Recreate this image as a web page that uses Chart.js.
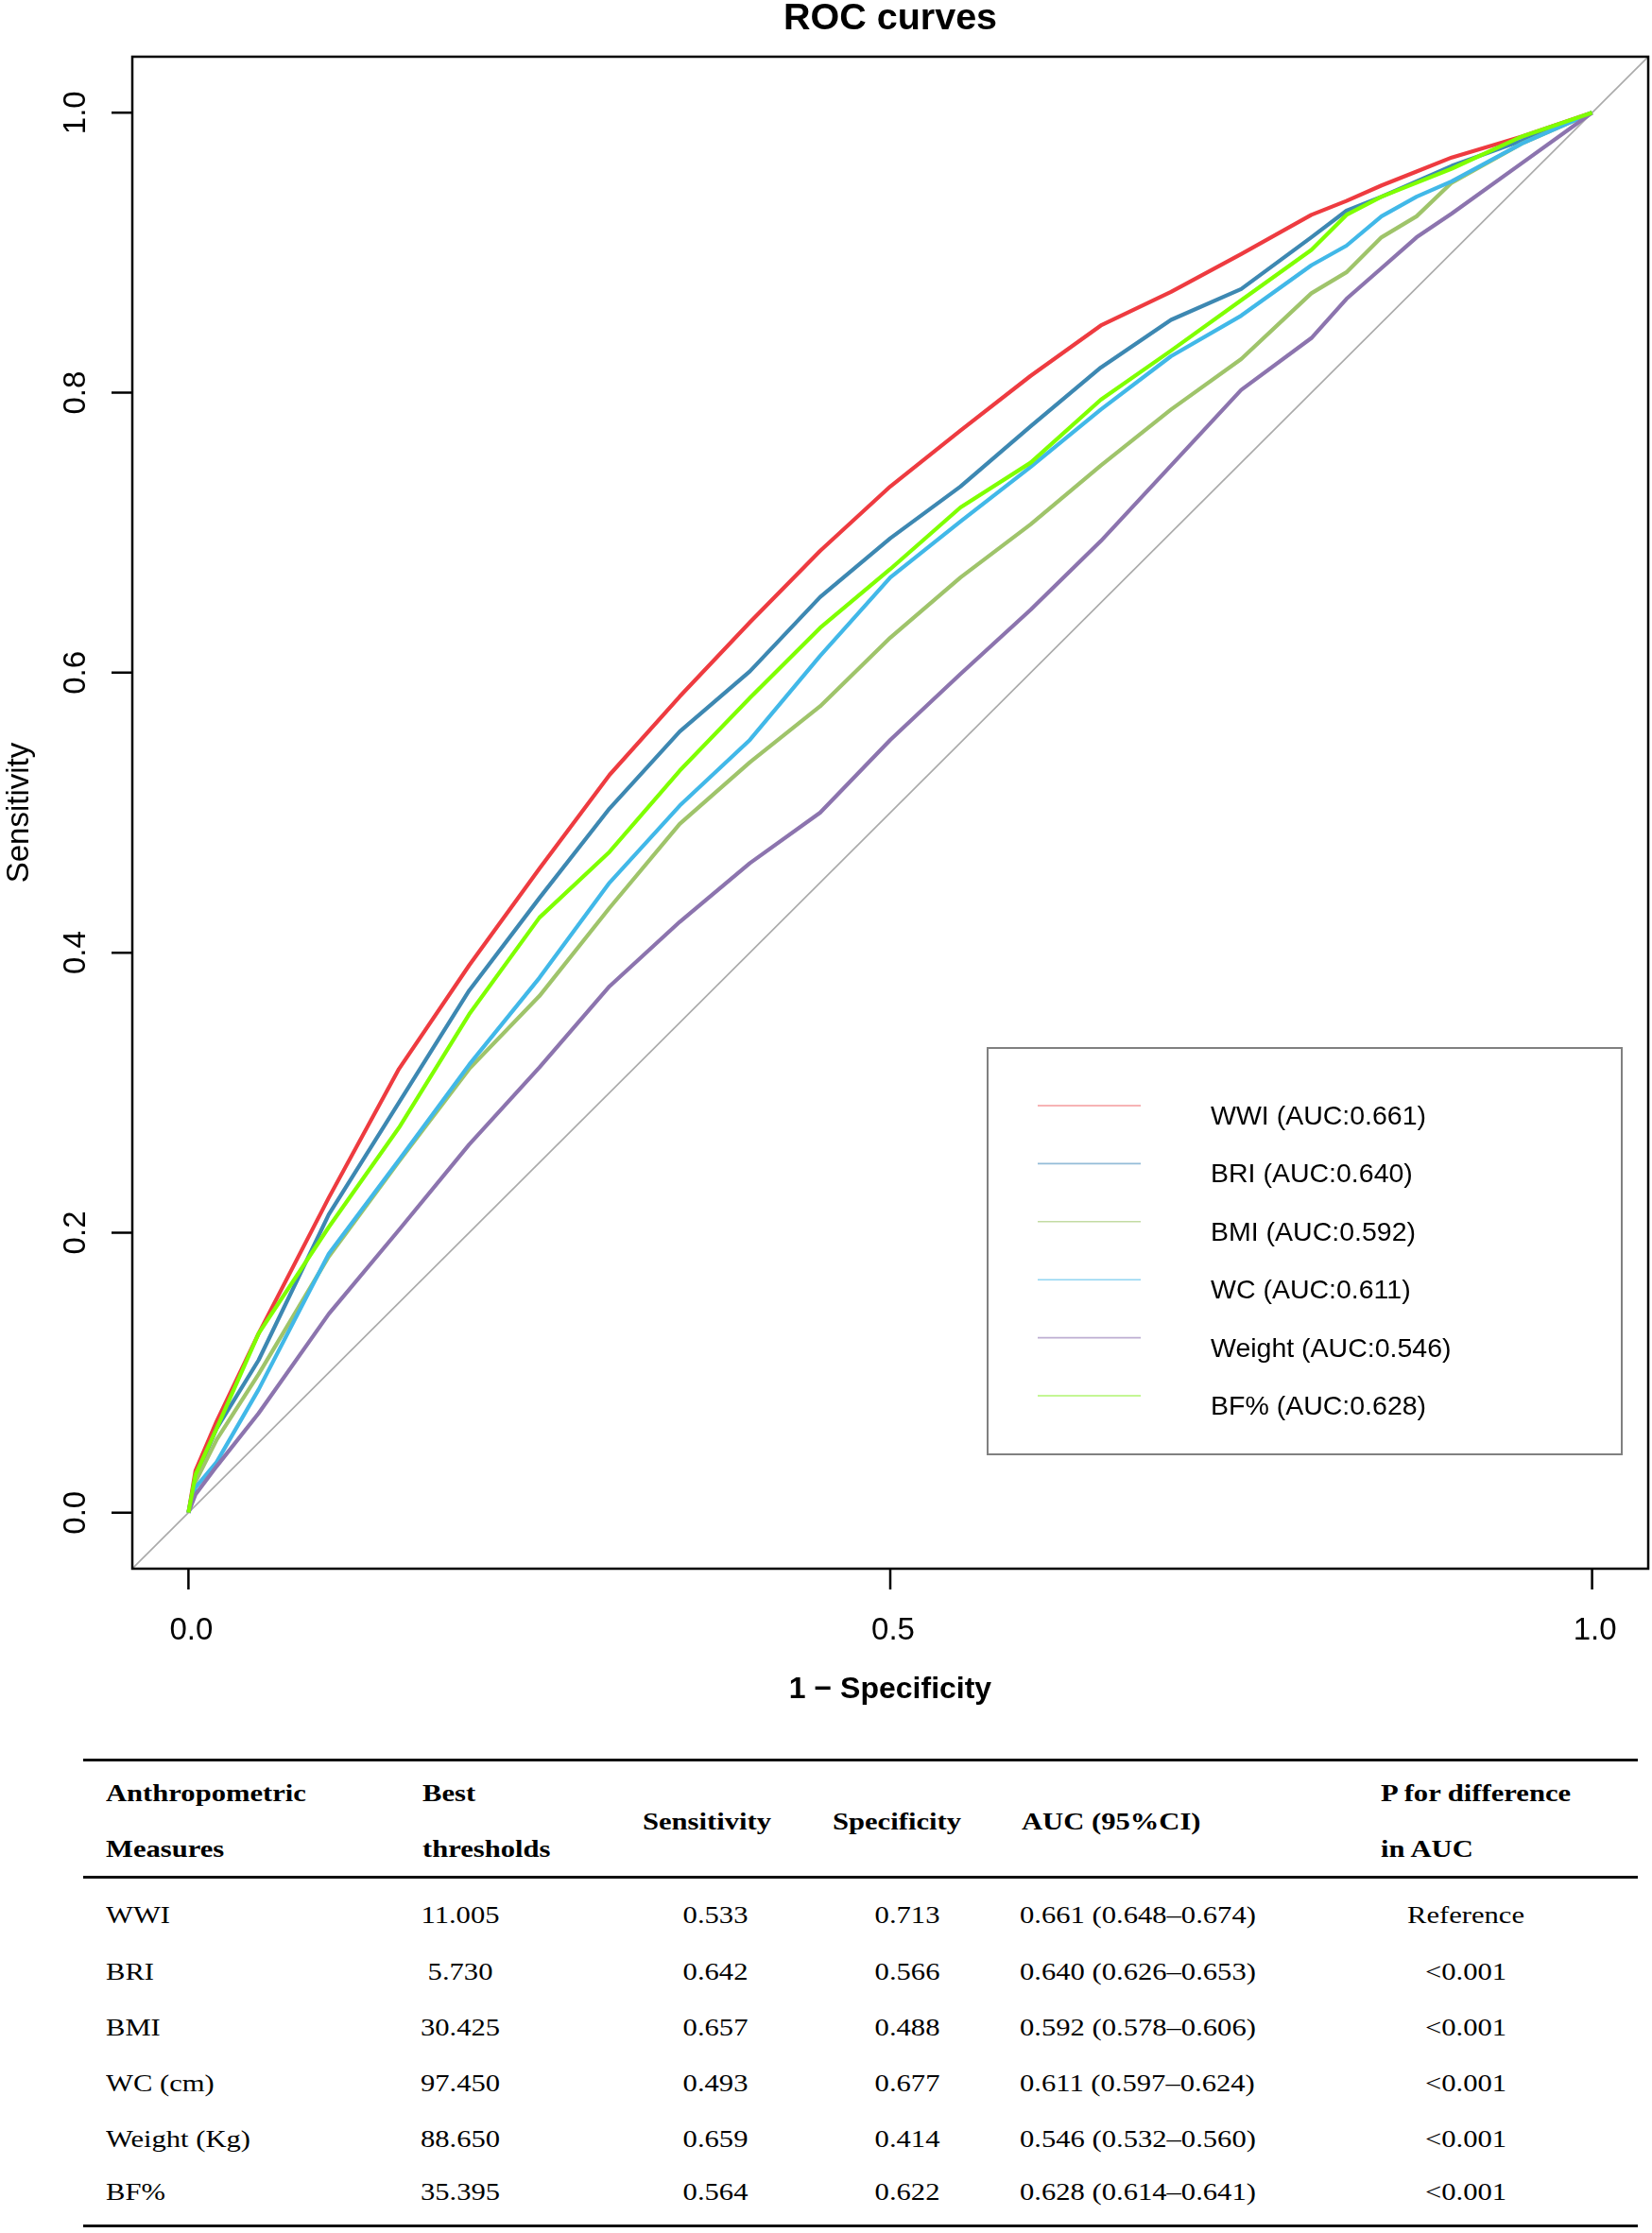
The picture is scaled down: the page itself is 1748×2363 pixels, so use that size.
<!DOCTYPE html>
<html>
<head>
<meta charset="utf-8">
<script src="https://cdn.jsdelivr.net/npm/chart.js@4.4.1/dist/chart.umd.min.js"></script>
<style>
  html, body { margin: 0; padding: 0; background: #fff; }
  body { width: 1748px; height: 2363px; position: relative; overflow: hidden; }
  #roc { position: absolute; left: 0; top: 0; }
  .rule { position: absolute; left: 88px; width: 1645px; height: 2.5px; background: #111; }
  .cell {
    position: absolute; height: 30px; line-height: 30px; white-space: nowrap; color: #000;
    font-family: "Liberation Serif", "Times New Roman", serif; font-size: 25.5px;
  }
  .cell.left { transform-origin: left center; transform: scaleX(1.2); }
  .cell.mid { width: 300px; text-align: center; transform-origin: center center; transform: scaleX(1.2); }
  .cell.head { font-weight: bold; }
</style>
</head>
<body>
<canvas id="roc" width="1748" height="1845"></canvas>
<div id="table"></div>
<script>
// ROC curves for six anthropometric measures.
const FPR = [0, 0.005, 0.02, 0.05, 0.1, 0.15, 0.2, 0.25, 0.3, 0.35, 0.4, 0.45, 0.5,
  0.55, 0.6, 0.65, 0.7, 0.75, 0.8, 0.825, 0.85, 0.875, 0.9, 0.95, 1];

const TPR_WWI = [0, 0.030, 0.065, 0.128, 0.225, 0.317, 0.391, 0.460, 0.527, 0.583, 0.636, 0.687, 0.733,
  0.773, 0.812, 0.848, 0.872, 0.899, 0.927, 0.937, 0.948, 0.958, 0.968, 0.983, 1];
const TPR_BRI = [0, 0.025, 0.060, 0.109, 0.213, 0.293, 0.373, 0.439, 0.503, 0.558, 0.601, 0.654, 0.696,
  0.733, 0.776, 0.818, 0.852, 0.874, 0.911, 0.930, 0.940, 0.951, 0.962, 0.980, 1];
const TPR_BMI = [0, 0.022, 0.052, 0.099, 0.183, 0.251, 0.317, 0.369, 0.432, 0.492, 0.536, 0.576, 0.625,
  0.668, 0.706, 0.748, 0.788, 0.824, 0.871, 0.886, 0.911, 0.926, 0.950, 0.978, 1];
const TPR_WC = [0, 0.018, 0.036, 0.088, 0.185, 0.252, 0.320, 0.382, 0.450, 0.505, 0.552, 0.612, 0.668,
  0.708, 0.747, 0.788, 0.826, 0.855, 0.891, 0.905, 0.926, 0.940, 0.951, 0.978, 1];
const TPR_WEIGHT = [0, 0.013, 0.033, 0.071, 0.142, 0.202, 0.263, 0.318, 0.376, 0.422, 0.464, 0.500, 0.552,
  0.599, 0.645, 0.694, 0.748, 0.802, 0.839, 0.867, 0.889, 0.911, 0.928, 0.964, 1];
const TPR_BF = [0, 0.027, 0.060, 0.128, 0.204, 0.275, 0.356, 0.425, 0.472, 0.530, 0.582, 0.632, 0.674,
  0.718, 0.750, 0.795, 0.830, 0.866, 0.902, 0.927, 0.940, 0.950, 0.960, 0.983, 1];

const CURVE_NAMES = ['WWI', 'BRI', 'BMI', 'WC', 'Weight', 'BF%'];
const CURVE_AUC = ['0.661', '0.640', '0.592', '0.611', '0.546', '0.628'];
const CURVE_TPR = [TPR_WWI, TPR_BRI, TPR_BMI, TPR_WC, TPR_WEIGHT, TPR_BF];
const CURVE_COLORS = ['#ee3b40', '#3d88b2', '#9fc46a', '#41b8e8', '#8c74ae', '#7fff00'];
const LEGEND_COLORS = ['#f49a9c', '#94bcd8', '#c3dba3', '#92d6f2', '#bdaed2', '#b0f570'];

// Chance line spans the whole (R-expanded) plotting range.
const DIAG = [-0.04, 1.04];
const X_TICKS = [0, 0.5, 1];
const Y_TICKS = [0, 0.2, 0.4, 0.6, 0.8, 1];

// Table under the plot.
const TABLE_HEAD = [
  ['Anthropometric', 'Measures'], ['Best', 'thresholds'], ['Sensitivity'], ['Specificity'],
  ['AUC (95%CI)'], ['P for difference', 'in AUC'],
];
const ROW_NAMES = ['WWI', 'BRI', 'BMI', 'WC (cm)', 'Weight (Kg)', 'BF%'];
const ROW_THRESH = ['11.005', '5.730', '30.425', '97.450', '88.650', '35.395'];
const ROW_SENS = ['0.533', '0.642', '0.657', '0.493', '0.659', '0.564'];
const ROW_SPEC = ['0.713', '0.566', '0.488', '0.677', '0.414', '0.622'];
const ROW_AUC = ['0.661 (0.648–0.674)', '0.640 (0.626–0.653)', '0.592 (0.578–0.606)',
  '0.611 (0.597–0.624)', '0.546 (0.532–0.560)', '0.628 (0.614–0.641)'];
const ROW_P = ['Reference', '<0.001', '<0.001', '<0.001', '<0.001', '<0.001'];

const SANS = '"Liberation Sans", Arial, Helvetica, sans-serif';

const datasets = CURVE_NAMES.map((name, i) => ({
  label: `${name} (AUC:${CURVE_AUC[i]})`,
  data: FPR.map((x, j) => ({ x, y: CURVE_TPR[i][j] })),
  borderColor: CURVE_COLORS[i],
  borderWidth: 4.2,
  borderJoinStyle: 'round',
  showLine: true,
  pointRadius: 0,
  tension: 0,
  order: CURVE_NAMES.length - i, // later curves sit on top, like successive lines() calls
}));
datasets.push({
  label: 'chance',
  data: DIAG.map((v) => ({ x: v, y: v })),
  borderColor: '#aaaaaa',
  borderWidth: 1.6,
  showLine: true,
  pointRadius: 0,
  order: 99,
});

// R-style frame: box, outward ticks, rotated y labels, titles and the legend box.
const rocFrame = {
  id: 'rocFrame',
  afterDraw(chart) {
    const { ctx, chartArea: a, scales: { x, y } } = chart;
    const midX = (a.left + a.right) / 2;
    const midY = (a.top + a.bottom) / 2;
    ctx.save();
    ctx.strokeStyle = '#000';
    ctx.lineWidth = 2.5;
    ctx.strokeRect(a.left, a.top, a.right - a.left, a.bottom - a.top);

    ctx.beginPath();
    for (const v of X_TICKS) {
      const px = x.getPixelForValue(v);
      ctx.moveTo(px, a.bottom);
      ctx.lineTo(px, a.bottom + 22);
    }
    for (const v of Y_TICKS) {
      const py = y.getPixelForValue(v);
      ctx.moveTo(a.left, py);
      ctx.lineTo(a.left - 22, py);
    }
    ctx.stroke();

    ctx.fillStyle = '#000';
    ctx.textAlign = 'center';
    ctx.textBaseline = 'alphabetic';
    ctx.font = `33px ${SANS}`;
    for (const v of X_TICKS) ctx.fillText(v.toFixed(1), x.getPixelForValue(v) + 3, a.bottom + 75);
    for (const v of Y_TICKS) {
      ctx.save();
      ctx.translate(a.left - 50, y.getPixelForValue(v));
      ctx.rotate(-Math.PI / 2);
      ctx.fillText(v.toFixed(1), 0, 0);
      ctx.restore();
    }

    ctx.save();
    ctx.translate(30, midY);
    ctx.rotate(-Math.PI / 2);
    ctx.fillText('Sensitivity', 0, 0);
    ctx.restore();

    ctx.font = `bold 32px ${SANS}`;
    ctx.fillText('1 − Specificity', midX, a.bottom + 137);
    ctx.font = `bold 39.5px ${SANS}`;
    ctx.fillText('ROC curves', midX, 31);

    // legend
    ctx.strokeStyle = '#808080';
    ctx.lineWidth = 2;
    ctx.strokeRect(1045, 1109, 671, 430);
    ctx.font = `28.5px ${SANS}`;
    ctx.textAlign = 'left';
    ctx.lineWidth = 1.6;
    CURVE_NAMES.forEach((name, i) => {
      const ly = 1170 + 61.4 * i;
      ctx.strokeStyle = LEGEND_COLORS[i];
      ctx.beginPath();
      ctx.moveTo(1098, ly);
      ctx.lineTo(1207, ly);
      ctx.stroke();
      ctx.fillText(datasets[i].label, 1281, ly + 20);
    });
    ctx.restore();
  },
};

new Chart(document.getElementById('roc'), {
  type: 'scatter',
  data: { datasets },
  options: {
    responsive: false,
    animation: false,
    layout: { padding: { left: 140, right: 4, top: 60, bottom: 185 }, autoPadding: false },
    scales: {
      x: { type: 'linear', display: false, min: -0.04, max: 1.04 },
      y: { type: 'linear', display: false, min: -0.04, max: 1.04 },
    },
    plugins: { legend: { display: false }, tooltip: { enabled: false }, title: { display: false } },
  },
  plugins: [rocFrame],
});

function addCell(text, x, cy, kind, head) {
  const el = document.createElement('div');
  el.className = `cell ${kind}${head ? ' head' : ''}`;
  el.textContent = text;
  el.style.top = `${cy - 15}px`;
  el.style.left = kind === 'mid' ? `${x - 150}px` : `${x}px`;
  document.getElementById('table').appendChild(el);
}

function addRule(top) {
  const el = document.createElement('div');
  el.className = 'rule';
  el.style.top = `${top}px`;
  document.getElementById('table').appendChild(el);
}

function buildTable() {
  addRule(1861);
  addRule(1985);
  addRule(2354);
  const headX = [112, 447, 680, 881, 1081, 1461];
  TABLE_HEAD.forEach((lines, c) => {
    if (lines.length === 2) {
      addCell(lines[0], headX[c], 1898, 'left', true);
      addCell(lines[1], headX[c], 1957, 'left', true);
    } else {
      addCell(lines[0], headX[c], 1928, 'left', true);
    }
  });
  const rowY = [2027, 2087, 2146, 2205, 2264, 2320];
  ROW_NAMES.forEach((name, r) => {
    addCell(name, 112, rowY[r], 'left');
    addCell(ROW_THRESH[r], 487, rowY[r], 'mid');
    addCell(ROW_SENS[r], 757, rowY[r], 'mid');
    addCell(ROW_SPEC[r], 960, rowY[r], 'mid');
    addCell(ROW_AUC[r], 1079, rowY[r], 'left');
    addCell(ROW_P[r], 1551, rowY[r], 'mid');
  });
}

buildTable();
</script>
</body>
</html>
